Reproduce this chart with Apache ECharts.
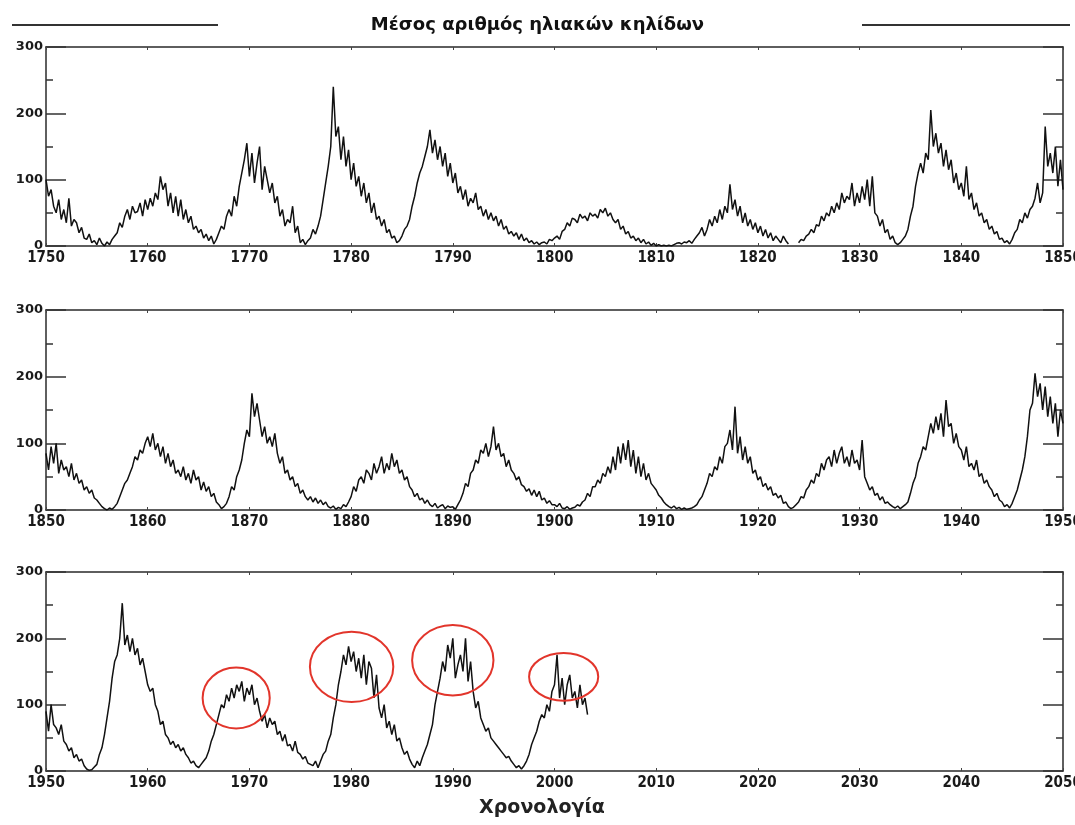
<!DOCTYPE html>
<html>
<head>
<meta charset="utf-8">
<script src="https://cdn.jsdelivr.net/npm/echarts@6/dist/echarts.min.js"></script>
<style>
html,body{margin:0;padding:0;background:#fff;overflow:hidden;}
#chart{width:1075px;height:825px;}
</style>
</head>
<body>
<div id="chart"></div>
<script>
// ---- data (quarterly readings of mean sunspot number) ----
const titleText = 'Μέσος αριθμός ηλιακών κηλίδων';
const xAxisTitle = 'Χρονολογία';
const panelStart = [1750, 1850, 1950];
const panelEnd = [1850, 1950, 2050];
const xTickStep = 10;
const yTicks = [0, 100, 200, 300];
const stepYears = 0.25;

const spots1750 = [
100,75,85,60, 50,70,40,55, 35,72,30,40, 35,20,28,12, 10,18,5,8,
2,12,4,0, 6,2,10,15, 20,35,28,45, 55,40,60,50, 52,65,45,70,
55,72,60,80, 70,105,85,95, 60,80,50,75, 45,70,40,55, 35,45,25,30,
20,25,12,18, 8,15,3,10, 20,30,25,45, 55,45,75,60, 90,110,130,155,
105,140,95,125, 150,85,120,100, 80,95,65,75, 45,55,30,40, 35,60,20,30,
5,10,2,8, 12,25,18,30, 45,70,95,120, 150,240,165,180, 130,165,120,145,
100,125,90,105, 75,95,65,80, 50,65,40,45, 30,40,20,25, 12,15,5,8,
15,25,30,40, 60,75,95,110, 120,135,150,175, 140,160,130,150, 120,140,105,125,
95,110,80,90, 70,85,60,72, 65,80,55,60, 45,55,40,50, 38,45,30,40,
25,30,18,22, 15,20,10,18, 8,12,5,8, 3,6,2,5, 6,3,10,8,
12,15,10,22, 25,35,30,42, 40,35,48,42, 45,38,50,45, 48,42,55,50,
57,45,50,40, 35,40,25,30, 18,22,12,15, 8,12,5,10, 3,6,1,4,
0,2,0,1, 0,1,0,2, 4,5,3,6, 5,8,4,10, 15,20,28,15,
25,40,30,45, 35,55,40,60, 50,93,55,70, 45,60,35,50, 30,40,25,35,
20,30,15,25, 12,20,8,15, 10,5,15,8, 3,null,null,null, 5,10,8,15,
18,25,20,32, 30,45,38,50, 45,60,50,65, 55,80,65,75, 70,95,60,80,
65,90,70,100, 60,105,50,45, 30,40,20,25, 10,15,5,2, 5,10,15,25,
45,60,90,110, 125,110,140,130, 205,150,170,140, 155,120,145,115, 130,95,110,85,
95,75,120,70, 80,55,65,45, 50,35,40,25, 30,18,22,10, 12,5,8,3,
10,20,25,40, 35,50,42,55, 60,72,95,65, 80,180,120,140, 110,150,90,130,
85
];

const spots1850 = [
85,60,95,70, 100,55,75,60, 65,50,70,45, 55,40,45,30, 35,25,30,18,
15,10,5,2, 0,3,1,5, 10,20,30,40, 45,55,65,80, 75,90,85,100,
110,95,115,90, 100,80,95,70, 85,65,75,55, 60,50,65,45, 55,40,60,45,
50,30,42,28, 35,20,25,12, 8,2,5,10, 20,35,30,50, 60,75,100,120,
110,175,140,160, 135,110,125,100, 110,95,115,85, 70,80,55,60, 45,50,35,40,
25,30,20,15, 20,12,18,10, 15,8,12,5, 3,6,1,4, 2,8,5,12,
20,35,28,45, 50,40,60,55, 45,70,55,65, 80,55,70,60, 85,65,75,55,
60,45,50,35, 30,20,25,15, 18,10,15,8, 5,10,3,6, 8,2,6,4,
5,1,8,15, 25,40,35,55, 60,75,70,90, 85,100,80,95, 125,90,100,80,
85,65,75,60, 55,45,50,38, 35,28,32,22, 30,20,28,15, 18,10,14,8,
8,5,10,3, 2,5,1,3, 4,8,6,12, 15,25,20,35, 35,45,40,55,
50,65,55,80, 60,95,70,100, 75,105,65,90, 55,80,50,70, 45,55,40,35,
30,22,18,12, 8,5,3,6, 2,4,1,3, 1,2,3,5, 8,15,20,30,
40,55,50,65, 60,80,70,95, 100,120,90,155, 85,110,75,95, 70,80,55,60,
45,50,35,40, 30,35,22,25, 18,22,10,12, 5,2,4,8, 12,20,18,30,
35,45,40,55, 50,70,60,75, 80,65,90,70, 85,95,70,80, 65,90,70,75,
60,105,50,40, 30,35,22,25, 15,20,10,12, 8,5,3,6, 2,5,8,12,
25,40,50,70, 80,95,90,110, 130,115,140,120, 145,110,165,125, 130,100,115,95,
90,75,95,65, 70,60,75,50, 55,40,45,35, 30,20,25,15, 12,5,8,3,
10,20,30,45, 60,80,110,150, 160,205,170,190, 150,185,140,170, 130,160,110,150,
130
];

const spots1950 = [
90,60,100,70, 65,55,70,45, 40,30,35,20, 25,15,18,8, 3,1,2,6,
10,25,35,55, 80,105,140,165, 175,200,253,190, 205,180,200,175, 185,160,170,150,
130,120,125,100, 90,70,75,55, 50,40,45,35, 40,30,35,25, 20,12,15,8,
5,10,15,20, 30,45,55,70, 85,100,95,115, 105,125,110,130, 120,135,105,125,
115,130,100,110, 90,75,85,65, 80,70,75,55, 60,45,55,38, 40,30,45,28,
25,18,22,12, 10,8,15,5, 15,25,30,45, 55,80,100,130, 150,175,160,188,
165,180,150,170, 140,175,130,165, 155,110,145,95, 80,100,65,75, 55,70,45,50,
35,25,30,18, 10,5,15,8, 20,30,40,55, 70,100,120,140, 165,150,190,170,
200,140,160,175, 150,200,135,165, 120,95,105,80, 70,60,65,50, 45,40,35,30,
25,20,22,15, 10,5,8,3, 8,15,25,40, 50,60,75,85, 80,100,90,120,
130,175,110,140, 100,130,145,110, 120,95,130,100, 110,85
];

// annotation ellipses on the last panel: [centre year, centre value, radius (years), radius (value)]
const ellipses = [
  [1968.7, 110, 3.3, 46],
  [1980.05, 157, 4.1, 53],
  [1990.0, 167, 4.0, 53],
  [2000.9, 142, 3.4, 36]
];

// ---- chart ----
const seriesValues = [spots1750, spots1850, spots1950];
const gridTops = [47, 310, 572];
const gridHeights = [199, 200, 199];

const chart = echarts.init(document.getElementById('chart'), null, {renderer: 'canvas'});

const axisLineStyle = {color: '#2a2a2a', width: 1.5};
const grids = [], xAxes = [], yAxes = [], series = [];
for (let i = 0; i < 3; i++) {
  grids.push({left: 46, right: 12, top: gridTops[i], height: gridHeights[i], containLabel: false, outerBoundsMode: 'none'});
  xAxes.push({
    type: 'value', gridIndex: i, position: 'bottom',
    min: panelStart[i], max: panelEnd[i], interval: xTickStep,
    axisLine: {show: true, onZero: false, lineStyle: axisLineStyle},
    axisTick: {show: true, inside: true, length: 3, lineStyle: {color: '#444'}},
    axisLabel: {show: true, margin: 5, color: '#1a1a1a', fontFamily: 'DejaVu Sans Condensed', fontWeight: 'bold', fontSize: 15,
      showMinLabel: true, showMaxLabel: true, hideOverlap: false, formatter: v => String(v)},
    splitLine: {show: false}
  });
  xAxes.push({
    type: 'value', gridIndex: i, position: 'top',
    min: panelStart[i], max: panelEnd[i], interval: xTickStep,
    axisLine: {show: true, onZero: false, lineStyle: axisLineStyle},
    axisTick: {show: true, inside: true, length: 3, lineStyle: {color: '#444'}},
    axisLabel: {show: false}, splitLine: {show: false}
  });
  const yCommon = {
    type: 'value', gridIndex: i,
    min: yTicks[0], max: yTicks[yTicks.length - 1], interval: yTicks[1] - yTicks[0],
    axisLine: {show: true, onZero: false, lineStyle: axisLineStyle},
    axisTick: {show: true, inside: true, length: 20, lineStyle: {color: '#333', width: 1.5}},
    minorTick: {show: true, splitNumber: 2, length: 7, lineStyle: {color: '#333', width: 1.5}},
    splitLine: {show: false}, minorSplitLine: {show: false}
  };
  yAxes.push(Object.assign({}, yCommon, {
    position: 'left',
    axisLabel: {show: true, margin: 3, color: '#1a1a1a', fontFamily: 'DejaVu Sans', fontWeight: 'bold', fontSize: 13,
      formatter: v => String(v)}
  }));
  yAxes.push(Object.assign({}, yCommon, {position: 'right', axisLabel: {show: false}}));

  const vals = seriesValues[i];
  const pts = vals.map((v, k) => [panelStart[i] + k * stepYears, v]);
  series.push({
    type: 'line', xAxisIndex: 2 * i, yAxisIndex: 2 * i, data: pts,
    showSymbol: false, symbol: 'none', connectNulls: false, clip: true,
    lineStyle: {color: '#111', width: 1.5}, z: 3
  });
}

chart.setOption({
  animation: false,
  backgroundColor: '#fff',
  title: {
    text: titleText, left: 'center', top: 11,
    textStyle: {fontFamily: 'DejaVu Sans', fontWeight: 'bold', fontSize: 18, color: '#111'}
  },
  grid: grids, xAxis: xAxes, yAxis: yAxes, series: series
});

// decorations: rules beside the title, x axis title, red ellipses placed in data coordinates
const graphics = [
  {type: 'line', shape: {x1: 12, y1: 25, x2: 218, y2: 25}, style: {stroke: '#333', lineWidth: 2}},
  {type: 'line', shape: {x1: 862, y1: 25, x2: 1070, y2: 25}, style: {stroke: '#333', lineWidth: 2}},
  {type: 'text', x: 542, y: 808, style: {text: xAxisTitle, fill: '#222', font: 'bold 19px "DejaVu Sans"', textAlign: 'center', textVerticalAlign: 'middle'}}
];
ellipses.forEach(e => {
  const c = chart.convertToPixel({gridIndex: 2}, [e[0], e[1]]);
  const r = chart.convertToPixel({gridIndex: 2}, [e[0] + e[2], e[1] + e[3]]);
  graphics.push({
    type: 'ellipse', z: 10,
    shape: {cx: c[0], cy: c[1], rx: Math.abs(r[0] - c[0]), ry: Math.abs(c[1] - r[1])},
    style: {fill: 'none', stroke: '#e2352b', lineWidth: 2}
  });
});
chart.setOption({graphic: graphics});
</script>
</body>
</html>
